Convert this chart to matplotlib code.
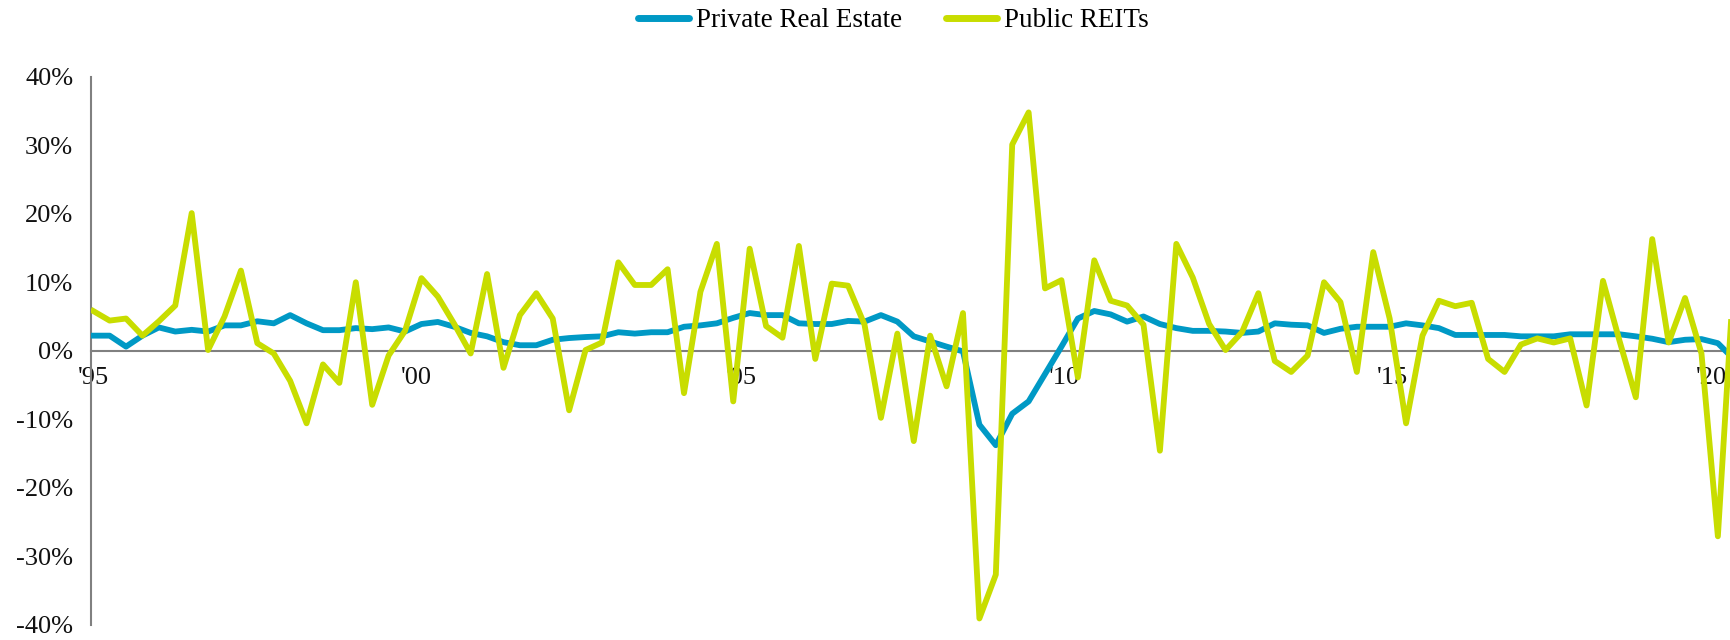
""" private real estate vs public REITs, quarterly returns """

import numpy as np
import matplotlib
matplotlib.use("Agg")
from matplotlib import pyplot as plt

# quarterly total returns (%), 1995 Q2 .. 2020 Q2
private_re = [
    2.2, 2.2, 0.6, 2.2, 3.4, 2.8, 3.05, 2.8, 3.7, 3.7,
    4.3, 4.0, 5.2, 4.0, 3.0, 3.0, 3.3, 3.15, 3.4, 2.8,
    3.9, 4.2, 3.5, 2.6, 2.1, 1.25, 0.8, 0.8, 1.6, 1.85,
    2.0, 2.1, 2.7, 2.5, 2.7, 2.7, 3.5, 3.7, 4.0, 4.8,
    5.5, 5.2, 5.2, 4.0, 3.9, 3.9, 4.35, 4.25, 5.2, 4.25,
    2.1, 1.35, 0.6, -0.1, -10.8, -13.8, -9.2, -7.4, -3.4, 0.6,
    4.7, 5.8, 5.3, 4.25, 5.0, 3.9, 3.3, 2.9, 2.9, 2.8,
    2.6, 2.8, 4.0, 3.8, 3.7, 2.6, 3.2, 3.5, 3.5, 3.5,
    4.0, 3.7, 3.3, 2.3, 2.3, 2.3, 2.3, 2.1, 2.1, 2.1,
    2.4, 2.4, 2.4, 2.4, 2.1, 1.75, 1.25, 1.6, 1.7, 1.1,
    -1.3,
]
public_reits = [
    5.8, 4.4, 4.7, 2.2, 4.3, 6.6, 20.1, 0.1, 5.0, 11.7,
    1.1, -0.4, -4.4, -10.6, -2.0, -4.7, 10.0, -7.9, -0.7, 2.9,
    10.6, 7.9, 3.9, -0.4, 11.2, -2.5, 5.2, 8.4, 4.7, -8.7,
    0.1, 1.2, 12.9, 9.6, 9.6, 11.9, -6.2, 8.6, 15.6, -7.4,
    14.9, 3.6, 1.9, 15.3, -1.2, 9.8, 9.5, 3.8, -9.8, 2.5,
    -13.2, 2.2, -5.2, 5.5, -39.1, -32.7, 30.1, 34.8, 9.1, 10.3,
    -3.9, 13.2, 7.3, 6.6, 3.8, -14.6, 15.6, 10.7, 3.9, 0.1,
    2.7, 8.4, -1.5, -3.1, -0.7, 10.0, 7.1, -3.1, 14.4, 4.7,
    -10.6, 2.2, 7.3, 6.5, 7.0, -1.2, -3.1, 0.9, 1.8, 1.2,
    1.8, -8.0, 10.2, 1.5, -6.8, 16.3, 1.2, 7.7, -0.4, -27.1,
    12.0,
]
year_labels = ["'95", "'00", "'05", "'10", "'15", "'20"]
y_ticks = [-40, -30, -20, -10, 0, 10, 20, 30, 40]

BLUE = "#0099C5"
GREEN = "#C8DD00"
GRAY = "#808080"

plt.rcParams['font.family'] = ['Liberation Serif', 'DejaVu Serif']

fig = plt.figure(figsize=(17.31, 6.4), dpi=100)
ax = fig.add_axes([0.0527, 0.024, 0.9473, 0.856])

x = np.arange(1, len(private_re) + 1)
ax.plot(x, private_re, color=BLUE, linewidth=4.2, zorder=3,
        solid_joinstyle='round', label="Private Real Estate")
ax.plot(x, public_reits, color=GREEN, linewidth=4.2, zorder=4,
        solid_joinstyle='round', label="Public REITs")

ax.set_xlim(0.878, 100.8)
ax.set_ylim(-40, 40)

ax.set_yticks(y_ticks)
ax.set_yticklabels(["{}%".format(v) for v in y_ticks])
ax.set_xticks([1, 20.7, 40.5, 60.2, 80.2, 99.6])
ax.set_xticklabels(year_labels)

for side in ("top", "right"):
    ax.spines[side].set_visible(False)
ax.spines['bottom'].set_position(('data', 0))
for side in ("left", "bottom"):
    ax.spines[side].set_color(GRAY)
    ax.spines[side].set_linewidth(1.5)
    ax.spines[side].set_zorder(2)

ax.tick_params(axis='both', length=0, labelsize=19, labelcolor="#111111")
ax.tick_params(axis='y', pad=13)
ax.tick_params(axis='x', pad=12)

leg = fig.legend(loc='center', bbox_to_anchor=(0.516, 0.968), ncol=2,
                 frameon=False, fontsize=19.5, handlelength=1.9,
                 handletextpad=0.25, columnspacing=1.6)
for line in leg.get_lines():
    line.set_solid_capstyle('round')
    line.set_linewidth(5)

fig.savefig("out.png", dpi=100)
